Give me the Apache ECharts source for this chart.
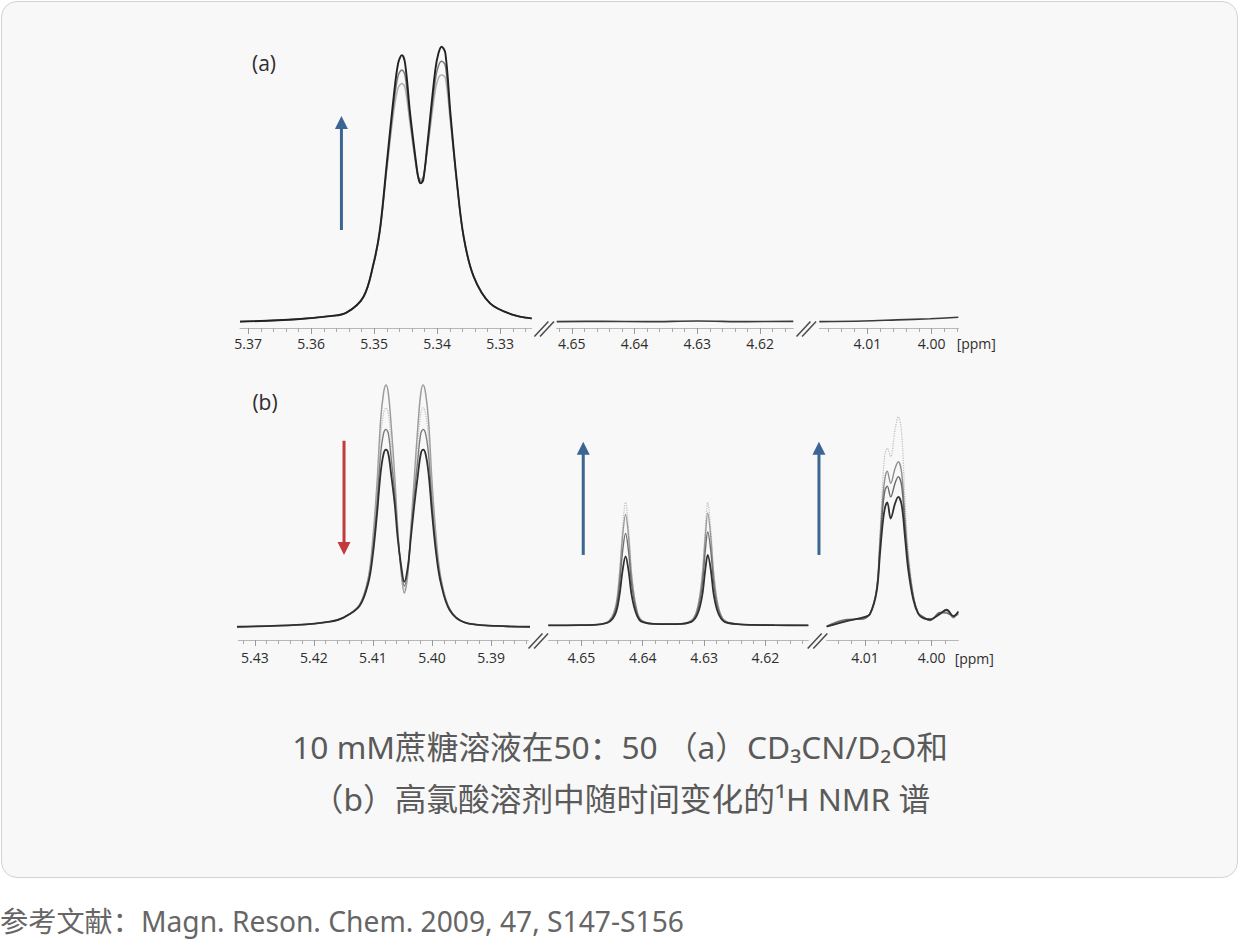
<!DOCTYPE html>
<html lang="zh-CN">
<head>
<meta charset="UTF-8">
<title>蔗糖溶液 1H NMR 谱</title>
<script src="https://cdn.jsdelivr.net/npm/echarts@6/dist/echarts.min.js"></script>
<style>
  html, body { margin: 0; height: 100%; background: #fff; }
  .card {
    position: absolute; left: 1px; top: 1px; width: 1237px; height: 877px;
    box-sizing: border-box; border: 1.5px solid #d3d3d3; border-radius: 16px;
    background: #f8f8f8;
  }
  #main { position: absolute; left: 0; top: 0; width: 1240px; height: 944px; }
</style>
</head>
<body>
<div class="card"></div>
<div id="main"></div>
<script>
// ---- data (ppm, intensity 0..100) ----
// (a) CD3CN/D2O
var ppmA1 = [5.3713, 5.3623, 5.3570, 5.3544, 5.3517, 5.3501, 5.3491, 5.3480, 5.3469, 5.3462, 5.3456, 5.3451, 5.3443, 5.3432, 5.3429,
             5.3426, 5.3422, 5.3416, 5.3403, 5.3398, 5.3393, 5.3387, 5.3379, 5.3369, 5.3358, 5.3342, 5.3316, 5.3279, 5.3250];
var a1Dark  = [2.2, 3.0, 4.1, 5.3, 10.8, 22.3, 33.8, 56.8, 79.8, 91.3, 94.1, 91.3, 74.0, 54.5, 50.9, 49.9, 51.2, 62.5, 89.0, 94.7, 97.0, 94.7, 74.0, 51.0, 31.5, 17.7, 8.5, 4.5, 3.3];
var a1Mid   = [2.2, 3.0, 4.1, 5.3, 10.7, 22.1, 33.4, 55.6, 77.2, 87.0, 89.0, 87.0, 72.0, 54.0, 51.4, 50.6, 51.8, 61.5, 85.5, 90.4, 92.0, 90.4, 72.4, 50.6, 31.3, 17.6, 8.5, 4.5, 3.3];
var a1Light = [2.2, 3.0, 4.1, 5.3, 10.6, 21.8, 33.0, 54.4, 74.6, 82.8, 84.3, 82.8, 70.2, 53.4, 51.8, 51.3, 52.1, 60.6, 82.0, 86.2, 87.2, 86.2, 70.8, 50.2, 31.0, 17.5, 8.5, 4.5, 3.3];

var ppmA2 = [4.6524, 4.6450, 4.6380, 4.6300, 4.6220, 4.6147];
var a2Line = [2.2, 2.3, 2.2, 2.4, 2.2, 2.3];

var ppmA3 = [4.01745, 4.0106, 4.00543, 4.00026, 3.99587];
var a3Line = [2.2, 2.4, 2.8, 3.2, 3.7];

// (b) perchloric acid
var ppmB1 = [5.4331, 5.4229, 5.4173, 5.4150, 5.4123, 5.4108, 5.4100, 5.4093, 5.4087, 5.4082, 5.4078, 5.4074, 5.4069, 5.4063, 5.4058, 5.4052,
             5.4047, 5.4041, 5.4036, 5.4030, 5.4024, 5.4019, 5.4015, 5.4011, 5.4006, 5.4000, 5.3993, 5.3985, 5.3970, 5.3945, 5.3890, 5.3834];
var b1T1 = [4.9, 5.6, 6.8, 8.3, 13.0, 23.0, 38.0, 58.5, 81.5, 91.5, 94.4, 91.4, 79.0, 60.0, 41.0, 24.5, 17.4, 24.5, 41.0, 60.0, 79.0, 91.4, 94.4, 91.5, 81.5, 58.5, 38.0, 23.0, 11.5, 6.5, 5.2, 4.9];
var b1T2 = [4.9, 5.6, 6.8, 8.3, 13.0, 22.5, 36.0, 55.0, 75.0, 84.0, 86.0, 84.0, 73.0, 57.0, 40.0, 25.0, 18.8, 25.0, 40.0, 57.0, 73.0, 84.0, 86.0, 84.0, 75.0, 55.0, 36.0, 22.5, 11.5, 6.5, 5.2, 4.9];
var b1T3 = [4.9, 5.6, 6.8, 8.3, 12.8, 22.0, 34.0, 51.0, 69.0, 76.5, 78.0, 76.5, 67.0, 54.0, 39.0, 26.0, 20.0, 26.0, 39.0, 54.0, 67.0, 76.5, 78.0, 76.5, 69.0, 51.0, 34.0, 22.0, 11.3, 6.5, 5.2, 4.9];
var b1T4 = [4.9, 5.6, 6.8, 8.3, 12.5, 21.0, 32.0, 47.0, 62.0, 69.0, 70.5, 69.0, 61.0, 50.0, 37.5, 27.0, 21.5, 27.0, 37.5, 50.0, 61.0, 69.0, 70.5, 69.0, 62.0, 47.0, 32.0, 21.0, 11.0, 6.5, 5.2, 4.9];

var ppmB2 = [4.6554, 4.6503, 4.6470, 4.6454, 4.6444, 4.6438, 4.6433, 4.6428, 4.6423, 4.6418, 4.6411, 4.6402, 4.6372,
             4.6346, 4.6320, 4.6310, 4.6303, 4.6298, 4.6294, 4.6289, 4.6284, 4.6277, 4.6267, 4.6242, 4.6185, 4.6130];
var b2T1 = [5.4, 5.5, 5.8, 7.5, 13.0, 25.0, 41.0, 51.0, 41.0, 25.0, 13.0, 7.5, 5.9, 5.9, 7.5, 13.0, 25.0, 41.0, 51.0, 41.0, 25.0, 13.0, 7.5, 5.8, 5.5, 5.4];
var b2T2 = [5.4, 5.5, 5.8, 7.3, 12.5, 23.5, 38.0, 46.5, 38.0, 23.5, 12.5, 7.3, 5.9, 5.9, 7.3, 12.5, 23.5, 38.0, 47.0, 38.0, 23.5, 12.5, 7.3, 5.8, 5.5, 5.4];
var b2T3 = [5.4, 5.5, 5.8, 7.0, 11.5, 20.5, 32.5, 39.5, 32.5, 20.5, 11.5, 7.0, 5.9, 5.9, 7.0, 11.5, 20.5, 33.0, 40.0, 33.0, 20.5, 11.5, 7.0, 5.8, 5.5, 5.4];
var b2T4 = [5.4, 5.5, 5.8, 6.8, 10.0, 16.5, 25.5, 31.0, 25.5, 16.5, 10.0, 6.8, 5.9, 5.9, 6.8, 10.0, 16.5, 26.0, 31.5, 26.0, 16.5, 10.0, 6.8, 5.8, 5.5, 5.4];

var ppmB3 = [4.01574, 4.01274, 4.01025, 4.00925, 4.00825, 4.00775, 4.00735, 4.00700, 4.00666, 4.00615, 4.00550, 4.00501,
             4.00450, 4.00400, 4.00351, 4.00276, 4.00201, 4.00126, 4.00025, 3.99876, 3.99775, 3.99676, 3.99601];
var b3T1 = [4.9, 7.4, 8.0, 9.9, 19.7, 39.5, 58.0, 69.0, 71.0, 67.9, 77.8, 82.7, 76.5, 51.9, 33.3, 17.3, 9.9, 8.0, 7.4, 9.9, 10.5, 8.6, 9.9];
var b3T2 = [4.9, 7.2, 8.2, 9.7, 19.0, 37.0, 52.0, 60.0, 62.5, 58.0, 63.5, 66.0, 62.0, 45.0, 30.0, 16.5, 9.9, 8.3, 7.8, 9.5, 11.0, 8.2, 10.3];
var b3T3 = [5.1, 7.6, 7.8, 9.8, 18.5, 35.0, 48.5, 55.5, 57.0, 53.0, 58.0, 60.5, 57.0, 42.0, 28.5, 16.0, 10.0, 8.6, 7.2, 10.2, 10.0, 9.0, 9.5];
var b3T4 = [5.0, 7.0, 8.4, 9.6, 18.0, 32.0, 43.0, 49.0, 51.0, 45.0, 50.5, 53.0, 50.0, 38.0, 26.0, 15.0, 9.7, 8.1, 7.6, 9.7, 11.2, 8.8, 10.6];

// tick labels
var ticksA1 = [5.37, 5.36, 5.35, 5.34, 5.33];
var ticksA2 = [4.65, 4.64, 4.63, 4.62];
var ticksA3 = [4.01, 4.00];
var ticksB1 = [5.43, 5.42, 5.41, 5.40, 5.39];
var ticksB2 = [4.65, 4.64, 4.63, 4.62];
var ticksB3 = [4.01, 4.00];

// ---- layout of the six broken-axis pieces ----
var segs = [
  { left: 240,   width: 291.7, top: 38,  height: 290, min: 5.3250,  max: 5.3713,  ticks: ticksA1, margin: 8 },
  { left: 556.7, width: 236.6, top: 38,  height: 290, min: 4.6147,  max: 4.6524,  ticks: ticksA2, margin: 8 },
  { left: 819.3, width: 139,   top: 38,  height: 290, min: 3.99587, max: 4.01745, ticks: ticksA3, margin: 8 },
  { left: 238.3, width: 290,   top: 370, height: 270, min: 5.3837,  max: 5.4328,  ticks: ticksB1, margin: 10 },
  { left: 548.3, width: 260,   top: 370, height: 270, min: 4.6130,  max: 4.6554,  ticks: ticksB2, margin: 10 },
  { left: 826.7, width: 131.6, top: 370, height: 270, min: 3.99601, max: 4.01574, ticks: ticksB3, margin: 10 }
];

var traces = [
  { seg: 0, ppm: ppmA1, vals: a1Light, color: '#b0b0b0', width: 1.5 },
  { seg: 0, ppm: ppmA1, vals: a1Mid,   color: '#7a7a7a', width: 1.5 },
  { seg: 0, ppm: ppmA1, vals: a1Dark,  color: '#222222', width: 1.9 },
  { seg: 1, ppm: ppmA2, vals: a2Line,  color: '#3a3a3a', width: 1.6 },
  { seg: 2, ppm: ppmA3, vals: a3Line,  color: '#3a3a3a', width: 1.6 },
  { seg: 3, ppm: ppmB1, vals: b1T1, color: '#9c9c9c', width: 1.5 },
  { seg: 3, ppm: ppmB1, vals: b1T2, color: '#bdbdbd', width: 1.2, type: 'dotted' },
  { seg: 3, ppm: ppmB1, vals: b1T3, color: '#7c7c7c', width: 1.4 },
  { seg: 3, ppm: ppmB1, vals: b1T4, color: '#303030', width: 1.8 },
  { seg: 4, ppm: ppmB2, vals: b2T1, color: '#bdbdbd', width: 1.2, type: 'dotted' },
  { seg: 4, ppm: ppmB2, vals: b2T2, color: '#9a9a9a', width: 1.4 },
  { seg: 4, ppm: ppmB2, vals: b2T3, color: '#707070', width: 1.4 },
  { seg: 4, ppm: ppmB2, vals: b2T4, color: '#303030', width: 1.8 },
  { seg: 5, ppm: ppmB3, vals: b3T1, color: '#bdbdbd', width: 1.2, type: 'dotted' },
  { seg: 5, ppm: ppmB3, vals: b3T2, color: '#8f8f8f', width: 1.4 },
  { seg: 5, ppm: ppmB3, vals: b3T3, color: '#6a6a6a', width: 1.4 },
  { seg: 5, ppm: ppmB3, vals: b3T4, color: '#303030', width: 1.8 }
];

// arrows: tail -> tip, in data units of a piece
var arrows = [
  { seg: 0, ppm: 5.3552, from: 33.8, to: 73.1, color: '#3b6694' },
  { seg: 3, ppm: 5.4149, from: 73.8, to: 31.5, color: '#c23b3c' },
  { seg: 4, ppm: 4.6497, from: 31.5, to: 73.4, color: '#3b6694' },
  { seg: 5, ppm: 4.0169, from: 31.5, to: 73.4, color: '#3b6694' }
];

function minorTicks(min, max) {
  var out = [];
  for (var k = Math.ceil(min * 500 - 1e-6); k <= Math.floor(max * 500 + 1e-6); k++) out.push(k / 500);
  return out;
}

var grids = [], xAxes = [], yAxes = [];
segs.forEach(function (s, g) {
  grids.push({ left: s.left, top: s.top, width: s.width, height: s.height, containLabel: false, outerBoundsMode: 'none' });
  yAxes.push({ gridIndex: g, type: 'value', min: 0, max: 100, show: false });
  xAxes.push({
    gridIndex: g, type: 'value', position: 'bottom', inverse: true, min: s.min, max: s.max,
    axisLine: { show: true, onZero: false, lineStyle: { color: '#b8b8b8', width: 1 } },
    axisTick: { show: true, customValues: minorTicks(s.min, s.max), length: 4, lineStyle: { color: '#a9a9a9', width: 1 } },
    axisLabel: {
      show: true, customValues: s.ticks, margin: s.margin,
      formatter: function (v) { return Number(v).toFixed(2); },
      fontFamily: '"Open Sans", "Noto Sans", sans-serif', fontSize: 14, color: '#2e2e2e'
    },
    splitLine: { show: false }
  });
  xAxes.push({
    gridIndex: g, type: 'value', position: 'bottom', inverse: true, min: s.min, max: s.max,
    axisLine: { show: false },
    axisTick: { show: true, customValues: s.ticks, length: 6, lineStyle: { color: '#9a9a9a', width: 1 } },
    axisLabel: { show: false },
    splitLine: { show: false }
  });
});

var series = traces.map(function (t) {
  return {
    type: 'line', xAxisIndex: 2 * t.seg, yAxisIndex: t.seg,
    data: t.ppm.map(function (p, i) { return [p, t.vals[i]]; }),
    showSymbol: false, smooth: 0.35, silent: true,
    lineStyle: { color: t.color, width: t.width, type: t.type || 'solid' }
  };
});

var chart = echarts.init(document.getElementById('main'), null, { renderer: 'svg' });
chart.setOption({
  animation: false,
  backgroundColor: 'transparent',
  grid: grids,
  xAxis: xAxes,
  yAxis: yAxes,
  series: series
});

function toPx(g, x, y) {
  return chart.convertToPixel({ xAxisIndex: 2 * g, yAxisIndex: g }, [x, y]);
}

var graphics = [];

// "//" axis-break marks between pieces
[[0, 1], [1, 2], [3, 4], [4, 5]].forEach(function (pair) {
  var a = toPx(pair[0], segs[pair[0]].min, 0);
  var b = toPx(pair[1], segs[pair[1]].max, 0);
  var cx = (a[0] + b[0]) / 2, cy = a[1] + 1;
  [-2.8, 2.8].forEach(function (off) {
    graphics.push({
      type: 'line', silent: true,
      shape: { x1: cx + off - 7, y1: cy + 7.5, x2: cx + off + 7, y2: cy - 7.5 },
      style: { stroke: '#4a4a4a', lineWidth: 1.5 }
    });
  });
});

// arrows
arrows.forEach(function (ar) {
  var tail = toPx(ar.seg, ar.ppm, ar.from);
  var tip = toPx(ar.seg, ar.ppm, ar.to);
  var dir = tip[1] < tail[1] ? 1 : -1; // 1: pointing up
  var x = tip[0];
  graphics.push({
    type: 'line', silent: true,
    shape: { x1: x, y1: tail[1], x2: x, y2: tip[1] + dir * 11 },
    style: { stroke: ar.color, lineWidth: 3 }
  });
  graphics.push({
    type: 'polygon', silent: true,
    shape: { points: [[x - 6.5, tip[1] + dir * 13], [x + 6.5, tip[1] + dir * 13], [x, tip[1]]] },
    style: { fill: ar.color }
  });
});

// texts
function txt(text, x, y, size, color, family, align) {
  graphics.push({
    type: 'text', silent: true,
    style: {
      text: text, x: x, y: y, fill: color, align: align || 'center', verticalAlign: 'middle',
      font: size + 'px ' + family
    }
  });
}
var latin = '"Open Sans", "Noto Sans", sans-serif';
var cjk = '"Noto Sans", "Noto Sans CJK SC", sans-serif';
txt('(a)', 264, 63, 21, '#2e2e2e', latin);
txt('(b)', 265, 402, 21, '#2e2e2e', latin);
var endA = toPx(2, segs[2].min, 0), endB = toPx(5, segs[5].min, 0);
txt('[ppm]', endA[0] + 18, endA[1] + 15, 14, '#2e2e2e', latin);
txt('[ppm]', endB[0] + 16, endB[1] + 18, 14, '#2e2e2e', latin);
txt('10 mM蔗糖溶液在50：50 （a）CD₃CN/D₂O和', 620, 746, 31.7, '#5a5a5a', cjk);
txt('（b）高氯酸溶剂中随时间变化的¹H NMR 谱', 621, 798, 31.7, '#5a5a5a', cjk);
txt('参考文献：Magn. Reson. Chem. 2009, 47, S147-S156', 0, 921, 28.2, '#666', cjk, 'left');

chart.setOption({ graphic: graphics });
</script>
</body>
</html>
